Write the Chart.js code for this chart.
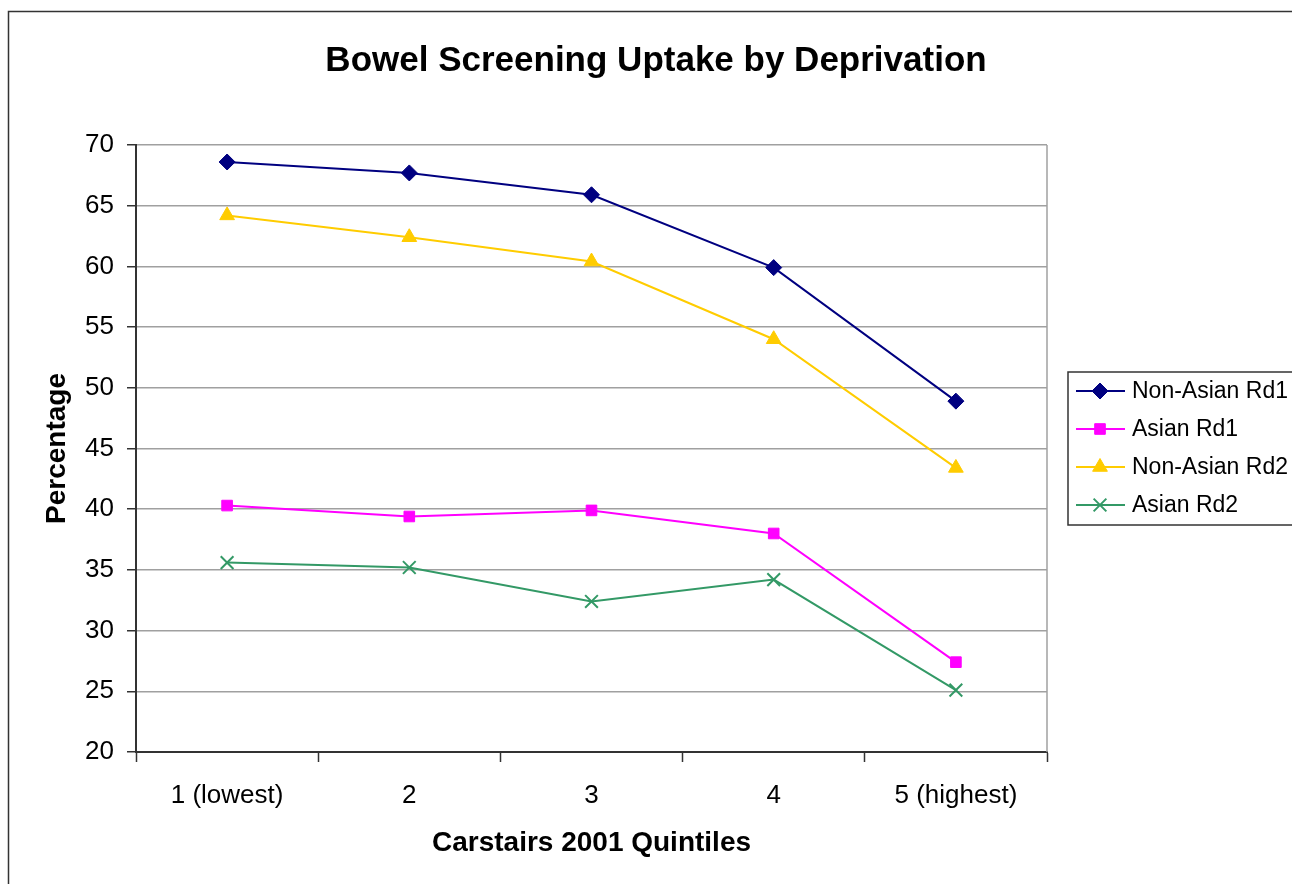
<!DOCTYPE html>
<html>
<head>
<meta charset="utf-8">
<script src="https://cdn.jsdelivr.net/npm/chart.js@4.4.1/dist/chart.umd.min.js"></script>
<style>
  html, body { margin: 0; padding: 0; background: #fff; overflow: hidden; }
  #wrap { position: relative; width: 1292px; height: 884px; }
</style>
</head>
<body>
<div id="wrap"><canvas id="chart"></canvas></div>
<script>
// данные графика
const quintiles = ["1 (lowest)", "2", "3", "4", "5 (highest)"];
const nonAsianRd1 = [68.6, 67.7, 65.9, 59.9, 48.9];
const asianRd1 = [40.3, 39.4, 39.9, 38.0, 27.4];
const nonAsianRd2 = [64.2, 62.4, 60.4, 54.0, 43.4];
const asianRd2 = [35.6, 35.2, 32.4, 34.2, 25.1];
const yMin = 20, yMax = 70, yStep = 5;

const FONT = "'Liberation Sans', Arial, sans-serif";

// рамка, заголовок и легенда
const framePlugin = {
  id: "frame",
  beforeDraw(chart) {
    const ctx = chart.ctx;
    ctx.save();
    ctx.fillStyle = "#fff";
    ctx.fillRect(0, 0, chart.width, chart.height);
    ctx.strokeStyle = "#333";
    ctx.lineWidth = 1.5;
    ctx.strokeRect(8.5, 11.5, chart.width + 20, chart.height + 20);
    ctx.restore();
  },
  afterDatasetsDraw(chart) {
    const ctx = chart.ctx;
    const a = chart.chartArea;
    ctx.save();
    // правая граница области графика
    ctx.strokeStyle = "#a0a0a0";
    ctx.lineWidth = 1.5;
    ctx.beginPath();
    ctx.moveTo(a.right, a.top);
    ctx.lineTo(a.right, a.bottom);
    ctx.stroke();

    // заголовок
    ctx.fillStyle = "#000";
    ctx.font = "bold 35px " + FONT;
    ctx.textAlign = "center";
    ctx.textBaseline = "middle";
    ctx.fillText("Bowel Screening Uptake by Deprivation", 656, 61);

    // легенда
    const lx = 1068, ly = 372, lw = 240, lh = 153;
    ctx.strokeStyle = "#333";
    ctx.lineWidth = 1.5;
    ctx.strokeRect(lx, ly, lw, lh);
    ctx.font = "23px " + FONT;
    ctx.textAlign = "left";
    chart.data.datasets.forEach((ds, i) => {
      const y = ly + 19 + i * 38;
      ctx.strokeStyle = ds.borderColor;
      ctx.lineWidth = 2;
      ctx.beginPath();
      ctx.moveTo(lx + 8, y);
      ctx.lineTo(lx + 57, y);
      ctx.stroke();
      ctx.fillStyle = ds.pointBackgroundColor;
      ctx.strokeStyle = ds.pointBorderColor;
      ctx.lineWidth = ds.pointBorderWidth;
      Chart.helpers.drawPoint(ctx, {
        pointStyle: ds.pointStyle,
        radius: ds.pointRadius,
        borderWidth: ds.pointBorderWidth,
        rotation: 0
      }, lx + 32, y);
      ctx.fillStyle = "#000";
      ctx.fillText(ds.label, lx + 64, y + 1);
    });
    ctx.restore();
  }
};

function series(label, data, color, style, radius, bw) {
  return {
    label: label,
    data: data,
    borderColor: color,
    backgroundColor: color,
    pointBackgroundColor: color,
    pointBorderColor: color,
    pointStyle: style,
    pointRadius: radius,
    pointHoverRadius: radius,
    pointBorderWidth: bw,
    borderWidth: 2,
    tension: 0,
    fill: false
  };
}

new Chart(document.getElementById("chart"), {
  type: "line",
  data: {
    labels: quintiles,
    datasets: [
      series("Non-Asian Rd1", nonAsianRd1, "#000080", "rectRot", 8, 1),
      series("Asian Rd1", asianRd1, "#ff00ff", "rect", 7.5, 1),
      series("Non-Asian Rd2", nonAsianRd2, "#ffcc00", "triangle", 8.5, 1),
      series("Asian Rd2", asianRd2, "#339966", "crossRot", 9, 2)
    ]
  },
  options: {
    responsive: true,
    maintainAspectRatio: false,
    animation: false,
    layout: { padding: { top: 145, right: 245, left: 36, bottom: 20 } },
    plugins: {
      legend: { display: false },
      title: { display: false },
      tooltip: { enabled: false }
    },
    scales: {
      x: {
        offset: true,
        afterFit: (s) => { s.height = 112; },
        grid: {
          offset: true,
          drawOnChartArea: false,
          drawTicks: true,
          tickLength: 10,
          tickColor: "#333",
          tickWidth: 1.5
        },
        border: { color: "#333", width: 2 },
        ticks: {
          color: "#000",
          padding: 18,
          font: { family: FONT, size: 26 },
          maxRotation: 0
        },
        title: {
          display: true,
          text: "Carstairs 2001 Quintiles",
          color: "#000",
          font: { family: FONT, size: 28, weight: "bold" },
          padding: { top: 4, bottom: 4 }
        }
      },
      y: {
        min: yMin,
        max: yMax,
        afterFit: (s) => { s.width = 100; },
        grid: {
          color: "#a0a0a0",
          lineWidth: 1.5,
          tickLength: 9,
          tickColor: "#333",
          tickWidth: 1.5
        },
        border: { color: "#333", width: 2 },
        ticks: {
          stepSize: yStep,
          color: "#000",
          padding: 13,
          font: { family: FONT, size: 26 }
        },
        title: {
          display: true,
          text: "Percentage",
          color: "#000",
          font: { family: FONT, size: 28, weight: "bold" },
          padding: { top: 4, bottom: 0 }
        }
      }
    }
  },
  plugins: [framePlugin]
});
</script>
</body>
</html>
